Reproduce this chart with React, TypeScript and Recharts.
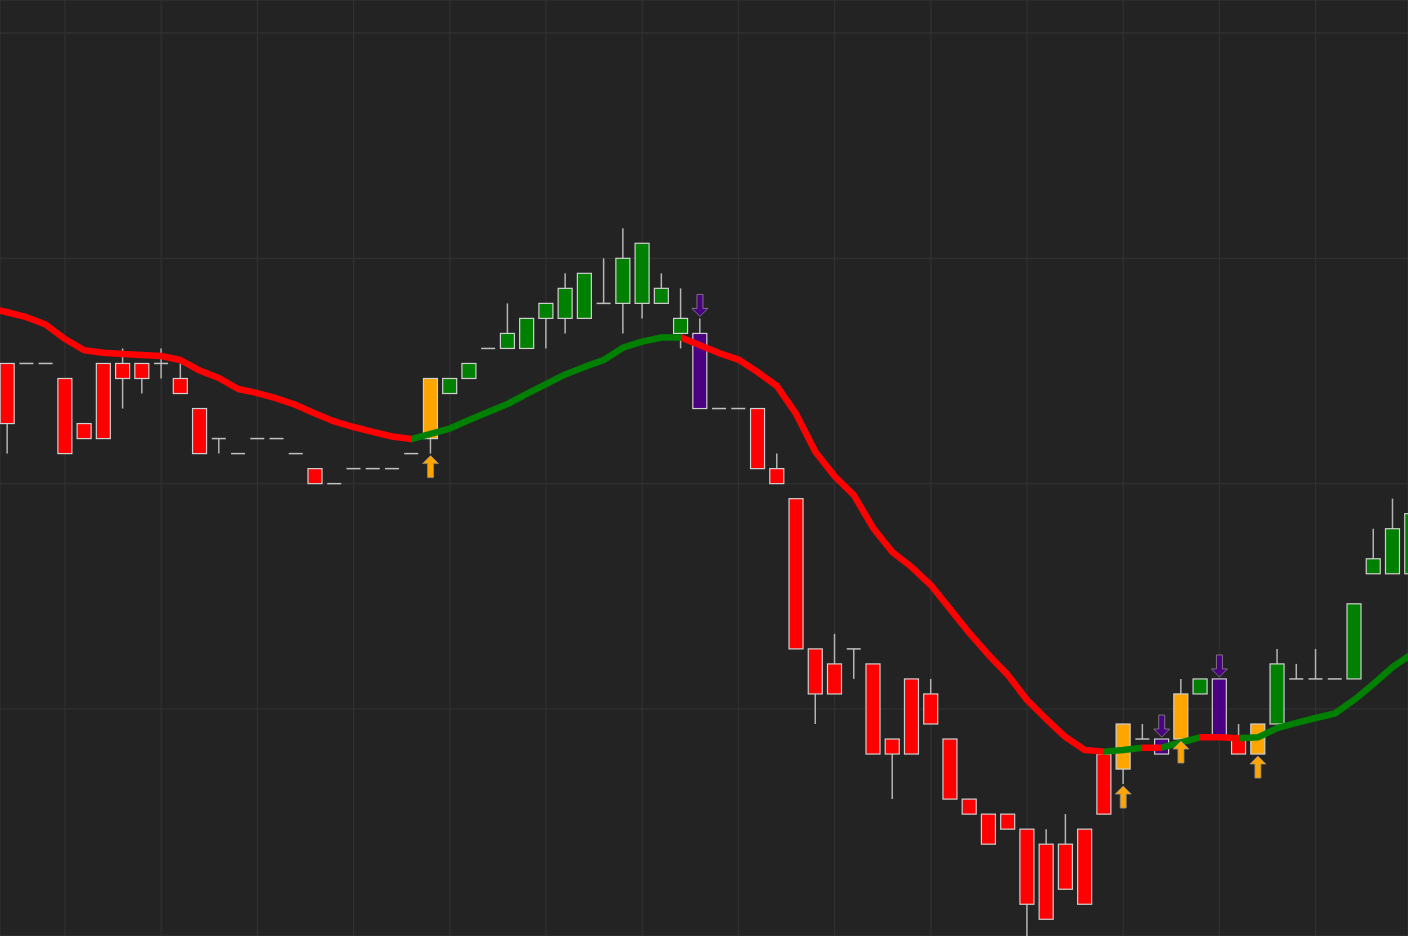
import React from 'react'
import { ComposedChart, Bar, Line, Scatter, XAxis, YAxis, CartesianGrid } from 'recharts'

// price levels, one entry per candle
const open = [
  38, 38, 38, 37, 34, 38, 38, 38, 38, 37,
  35, 33, 32, 33, 33, 32, 31, 30, 31, 31,
  31, 32, 33, 36, 37, 39, 39, 39, 41, 41,
  41, 42, 42, 42, 42, 40, 40, 35, 35, 35,
  31, 29, 19, 18, 19, 18, 13, 17, 16, 13,
  9, 8, 8, 7, 6, 6, 7, 12, 11, 13,
  13, 13, 16, 17, 13, 12, 14, 17, 17, 17,
  17, 24, 24, 24,
]
const high = [
  38, 38, 38, 37, 34, 38, 39, 38, 39, 38,
  35, 33, 32, 33, 33, 32, 31, 30, 31, 31,
  31, 32, 37, 37, 38, 39, 42, 41, 42, 44,
  44, 45, 47, 46, 44, 43, 41, 35, 35, 35,
  32, 29, 19, 20, 19, 18, 13, 17, 17, 13,
  9, 8, 8, 7, 7, 8, 7, 12, 14, 14,
  13, 17, 17, 17, 14, 14, 19, 18, 19, 17,
  22, 27, 29, 29,
]
const low = [
  32, 38, 38, 32, 33, 33, 35, 36, 37, 36,
  32, 32, 32, 33, 33, 32, 30, 30, 31, 31,
  31, 32, 32, 36, 37, 39, 39, 39, 39, 40,
  41, 42, 40, 41, 42, 39, 35, 35, 35, 31,
  30, 19, 14, 16, 17, 12, 9, 12, 14, 9,
  8, 6, 7, -1, 1, 3, 2, 8, 10, 13,
  12, 13, 16, 13, 12, 12, 14, 17, 17, 17,
  17, 24, 24, 24,
]
const close = [
  34, 38, 38, 32, 33, 33, 37, 37, 38, 36,
  32, 33, 32, 33, 33, 32, 30, 30, 31, 31,
  31, 32, 37, 37, 38, 39, 40, 41, 42, 43,
  44, 42, 45, 46, 43, 41, 35, 35, 35, 31,
  30, 19, 16, 16, 19, 12, 12, 12, 14, 9,
  8, 6, 7, 2, 1, 3, 2, 8, 14, 13,
  12, 16, 17, 13, 12, 14, 18, 17, 17, 17,
  22, 25, 27, 28,
]
// moving average; maPrev is the bar just left of the first visible candle
const maPrev = 41.7
const ma = [
  41.41, 41.08, 40.59, 39.63, 38.88, 38.72, 38.63, 38.56, 38.5, 38.23,
  37.53, 37.03, 36.3, 36.03, 35.67, 35.24, 34.67, 34.14, 33.77, 33.44,
  33.14, 32.97, 33.31, 33.67, 34.24, 34.77, 35.3, 35.97, 36.63, 37.27,
  37.77, 38.23, 39.05, 39.45, 39.73, 39.74, 39.22, 38.69, 38.26, 37.43,
  36.5, 34.64, 32.12, 30.49, 29.24, 27.05, 25.45, 24.45, 23.25, 21.66,
  20.06, 18.6, 17.27, 15.6, 14.33, 13.13, 12.27, 12.16, 12.27, 12.42,
  12.42, 12.77, 13.11, 13.11, 13.05, 13.11, 13.73, 14.07, 14.4, 14.7,
  15.6, 16.66, 17.79, 18.66,
]
// 1 = average rising (green), -1 = falling (red)
const trend = [
  -1, -1, -1, -1, -1, -1, -1, -1, -1, -1,
  -1, -1, -1, -1, -1, -1, -1, -1, -1, -1,
  -1, -1, 1, 1, 1, 1, 1, 1, 1, 1,
  1, 1, 1, 1, 1, 1, -1, -1, -1, -1,
  -1, -1, -1, -1, -1, -1, -1, -1, -1, -1,
  -1, -1, -1, -1, -1, -1, -1, -1, 1, 1,
  -1, 1, 1, -1, -1, 1, 1, 1, 1, 1,
  1, 1, 1, 1,
]

const gridX = [3, 8, 13, 18, 23, 28, 33, 38, 43, 48, 53, 58, 63, 68]
const gridY = [0, 15, 30, 45, 60]

const UP = '#008000'
const DOWN = '#ff0000'
const BUY = '#ffa500'
const SELL = '#4b0082'

const candles = open.map((o, i) => {
  const up = trend[i] === 1
  const flip = i > 0 && trend[i] !== trend[i - 1]
  return {
    i,
    open: o,
    high: high[i],
    low: low[i],
    close: close[i],
    ma: ma[i],
    range: [low[i], high[i]],
    color: flip ? (up ? BUY : SELL) : up ? UP : DOWN,
    buy: flip && up ? low[i] : null,
    sell: flip && !up ? high[i] : null,
  }
})
const data = [{ i: -1, ma: maPrev, range: null, buy: null, sell: null } as any, ...candles]

function Candle(props: any) {
  let { x, y, width, height, payload } = props
  if (!payload || payload.open == null) return <g />
  if (height < 0) {
    y += height
    height = -height
  }
  const { open, high, low, close, color } = payload
  const cx = x + width / 2
  const span = high - low
  const py = (p: number) => (span === 0 ? y : y + ((high - p) / span) * height)
  const top = py(Math.max(open, close))
  const bottom = py(Math.min(open, close))
  return (
    <g>
      {span > 0 && <line x1={cx} x2={cx} y1={py(high)} y2={py(low)} stroke="#b4b4b4" strokeWidth={1.5} />}
      {bottom - top < 1 ? (
        <line x1={x + 0.5} x2={x + width - 0.5} y1={top} y2={top} stroke="#c0c0c0" strokeWidth={1.5} />
      ) : (
        <rect x={x + 0.5} y={top} width={width - 1} height={bottom - top} fill={color} stroke="#cfcfcf" strokeWidth={1.2} />
      )}
    </g>
  )
}

const arrowPts = [[0, 0], [8, 8], [3, 8], [3, 22], [-3, 22], [-3, 8], [-8, 8]]

function BuyArrow(props: any) {
  const { cx, cy, payload } = props
  if (payload?.buy == null || cy == null || isNaN(cy)) return <g />
  const t = cy + 2
  const pts = arrowPts.map(([dx, dy]) => `${cx + dx},${t + dy}`).join(' ')
  return <polygon points={pts} fill={BUY} stroke="#8c8c8c" strokeOpacity={0.8} strokeWidth={1} />
}

function SellArrow(props: any) {
  const { cx, cy, payload } = props
  if (payload?.sell == null || cy == null || isNaN(cy)) return <g />
  const t = cy - 2
  const pts = arrowPts.map(([dx, dy]) => `${cx + dx},${t - dy}`).join(' ')
  return <polygon points={pts} fill={SELL} stroke="#8c8c8c" strokeOpacity={0.8} strokeWidth={1} />
}

export default function App() {
  // gradient runs over the whole average, from the leading point to the last candle
  const n = ma.length // segments: leading point -> 0, then k-1 -> k
  const stops: React.ReactNode[] = []
  for (let k = 0; k < n; k++) {
    const c = trend[k] === 1 ? UP : DOWN
    stops.push(<stop key={`a${k}`} offset={`${(k / n) * 100}%`} stopColor={c} />)
    stops.push(<stop key={`b${k}`} offset={`${((k + 1) / n) * 100}%`} stopColor={c} />)
  }

  return (
    <div style={{ position: 'absolute', left: 0, top: 0, width: 1408, height: 936, background: '#232323' }}>
      <ComposedChart width={1408} height={936} data={data} margin={{ top: 0, right: 0, bottom: 0, left: 0 }}>
        <defs>
          <linearGradient id="maGrad" x1="0" y1="0" x2="1" y2="0">
            {stops}
          </linearGradient>
        </defs>
        <CartesianGrid stroke="#303030" strokeWidth={1.3} />
        <XAxis
          type="number"
          dataKey="i"
          domain={[-0.378, 72.8]}
          ticks={gridX}
          allowDataOverflow
          hide
        />
        <YAxis type="number" domain={[-0.113, 62.196]} ticks={gridY} allowDataOverflow hide />
        <Bar dataKey="range" barSize={15} shape={<Candle />} isAnimationActive={false} />
        <Line
          type="linear"
          dataKey="ma"
          stroke="url(#maGrad)"
          strokeWidth={6.5}
          strokeLinejoin="round"
          dot={false}
          activeDot={false}
          isAnimationActive={false}
        />
        <Scatter dataKey="buy" shape={<BuyArrow />} isAnimationActive={false} />
        <Scatter dataKey="sell" shape={<SellArrow />} isAnimationActive={false} />
      </ComposedChart>
    </div>
  )
}
